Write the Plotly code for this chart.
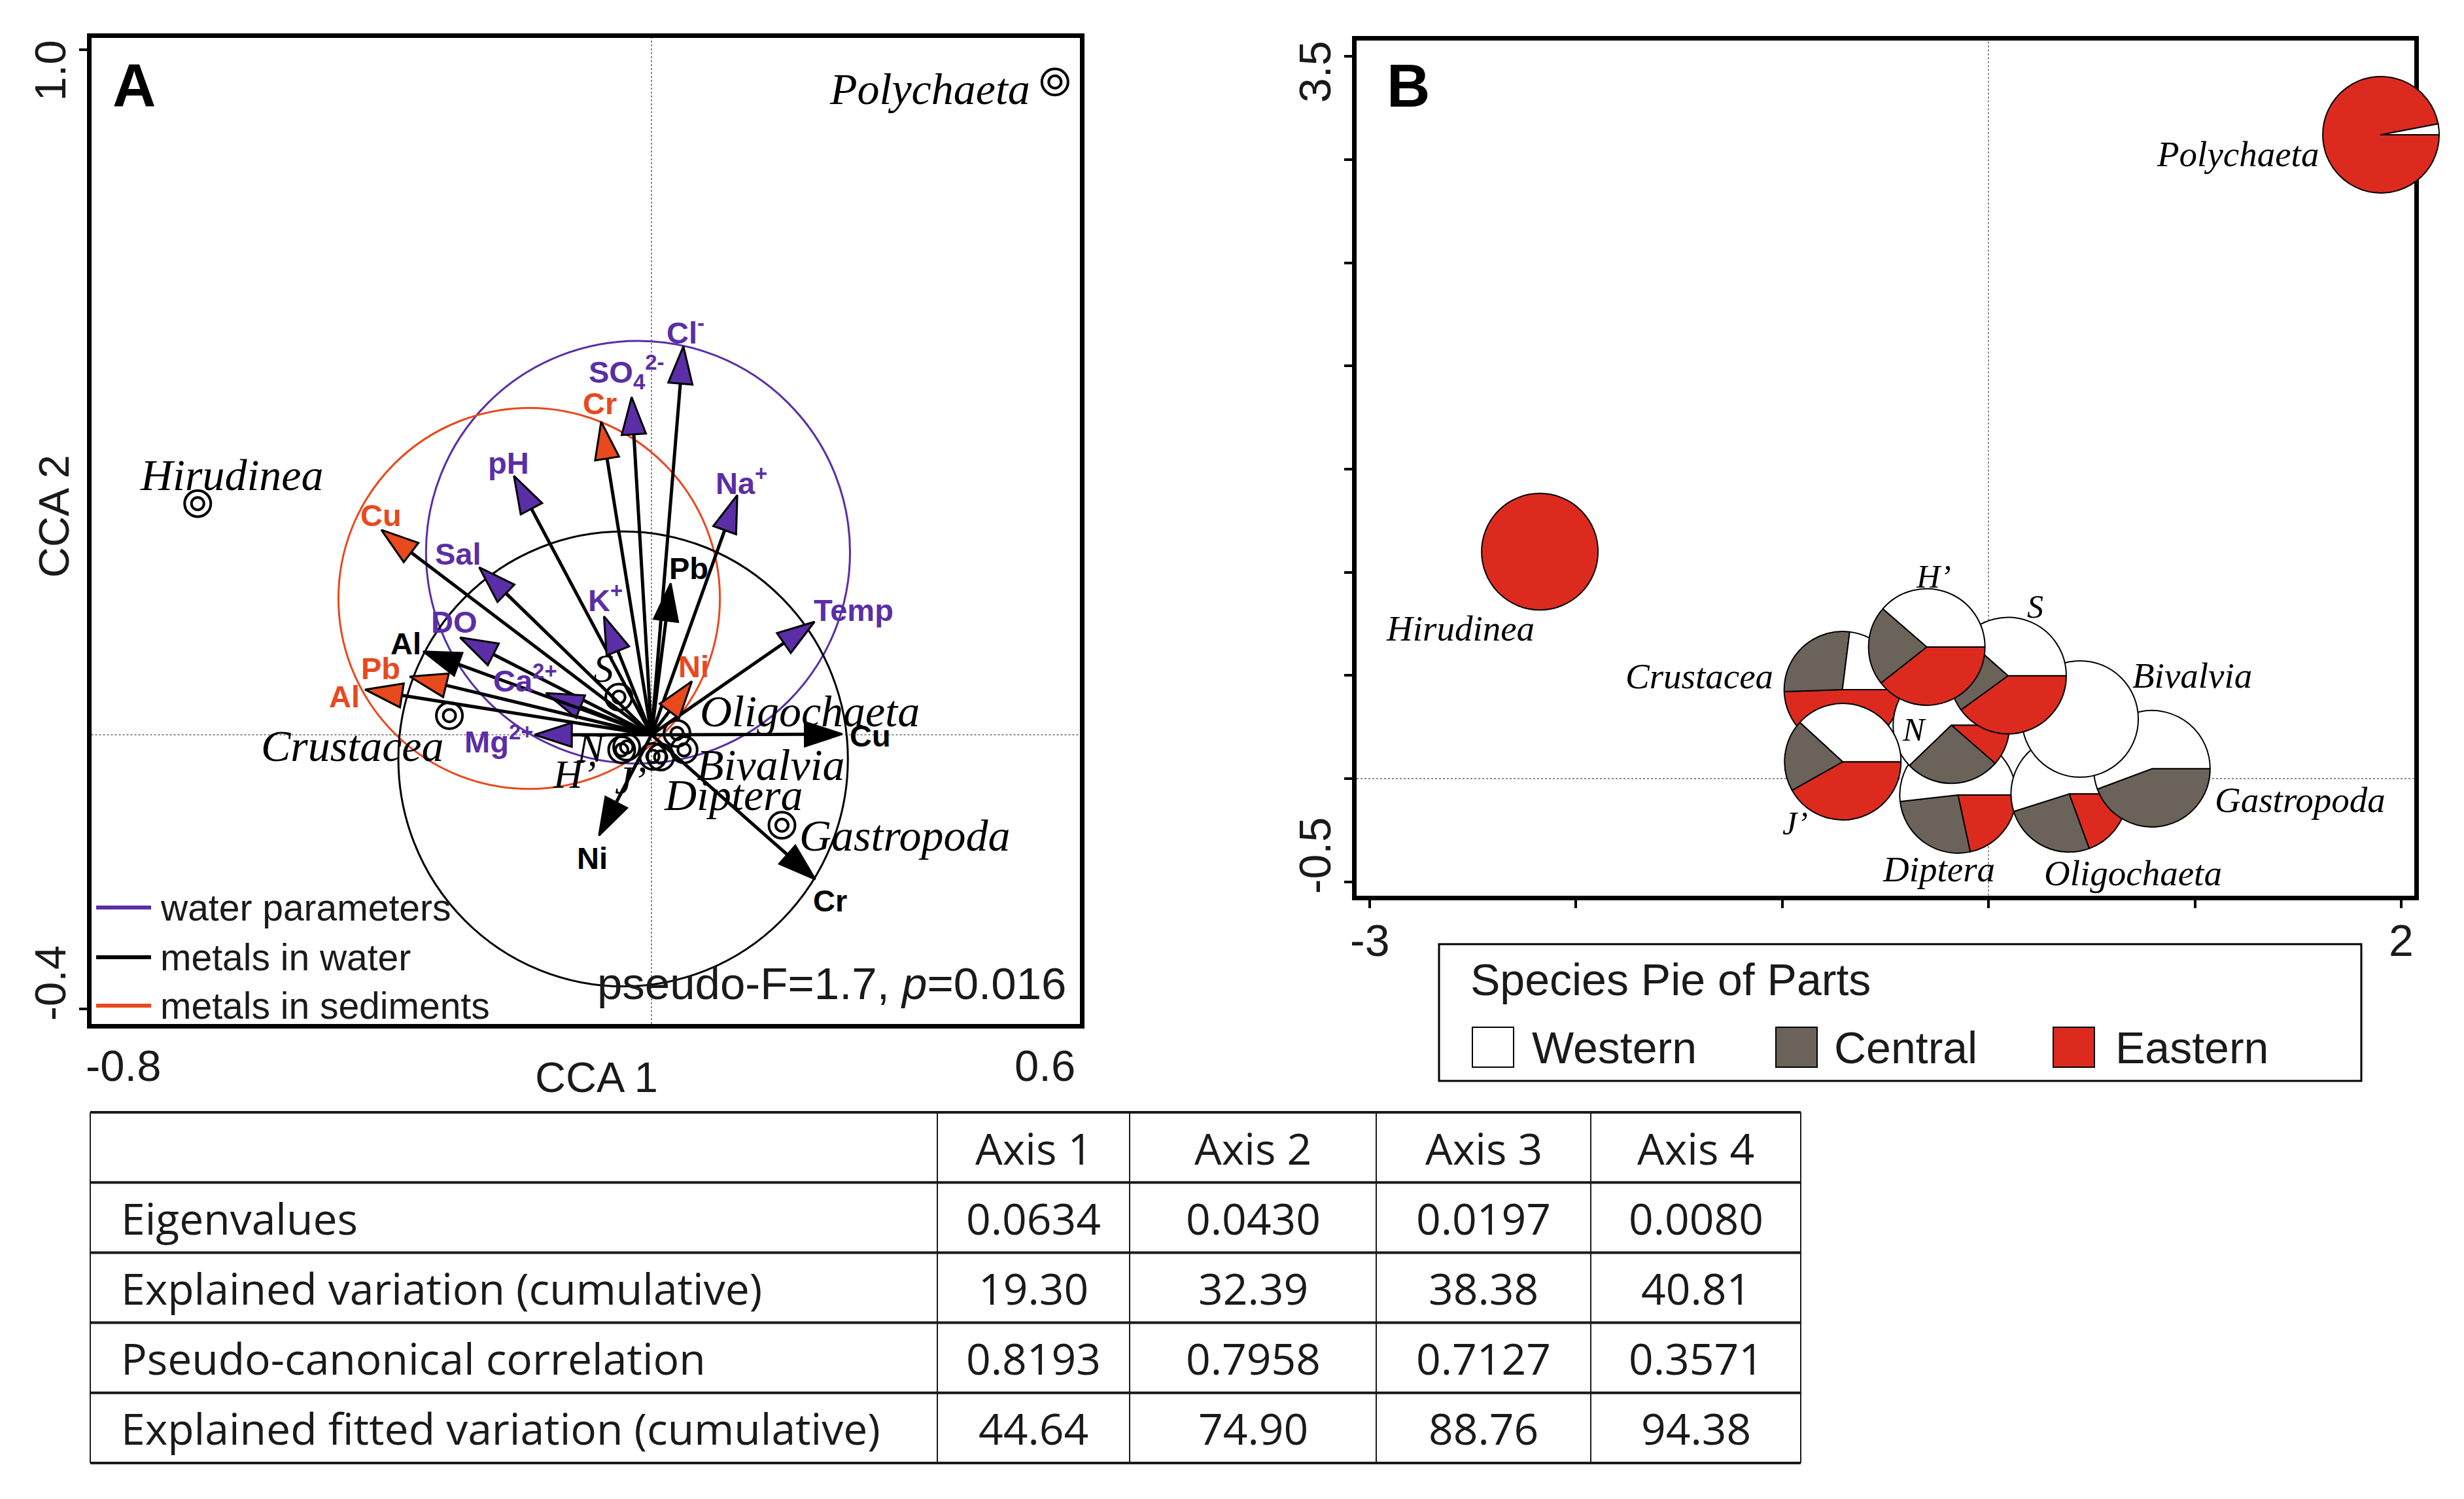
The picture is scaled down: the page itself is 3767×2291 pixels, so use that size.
import plotly.graph_objects as go

# ======================= DATA =======================
# ---- Panel A: CCA biplot (vector tips, CCA1 / CCA2) ----
water_names = ["Cl<sup>-</sup>", "SO<sub>4</sub><sup>2-</sup>", "pH", "Na<sup>+</sup>", "Sal",
               "K<sup>+</sup>", "DO", "Ca<sup>2+</sup>", "Mg<sup>2+</sup>", "Temp"]
water_x = [0.045, -0.028, -0.194, 0.121, -0.243, -0.067, -0.270, -0.149, -0.165, 0.230]
water_y = [0.567, 0.493, 0.378, 0.350, 0.2445, 0.173, 0.142, 0.061, 0.000, 0.165]

metal_w_names = ["Pb", "Al", "Cu", "Cr", "Ni"]
metal_w_x = [0.027, -0.322, 0.269, 0.231, -0.074]
metal_w_y = [0.221, 0.1216, 0.001, -0.211, -0.147]

metal_s_names = ["Cr", "Cu", "Pb", "Al", "Ni"]
metal_s_x = [-0.071, -0.381, -0.341, -0.404, 0.057]
metal_s_y = [0.457, 0.299, 0.085, 0.066, 0.078]

species_names = ["Polychaeta", "Hirudinea", "Crustacea", "Gastropoda", "Oligochaeta",
                 "Bivalvia", "Diptera", "S", "N", "H’", "J’"]
species_x = [0.569, -0.640, -0.285, 0.184, 0.036, 0.046, 0.013, -0.046, -0.042, -0.035, 0.002]
species_y = [0.953, 0.3375, 0.028, -0.132, 0.002, -0.022, -0.0325, 0.055, -0.022, -0.018, -0.0315]

# reference circles: water parameters, metals in sediments, metals in water
circle_cx = [-0.019, -0.1725, -0.040]
circle_cy = [0.2665, 0.199, -0.0353]
circle_rx = [0.299, 0.269, 0.317]
circle_ry = [0.3085, 0.278, 0.332]

legend_a_names = ["water parameters", "metals in water", "metals in sediments"]
stat_text = "pseudo-F=1.7, <i>p</i>=0.016"

A_xticks = [-0.8, 0.6]
A_xticklabels = ["-0.8", "0.6"]
A_yticks = [1.0, -0.4]
A_yticklabels = ["1.0", "-0.4"]

# ---- Panel B: species pie of parts ----
pie_names = ["Crustacea", "Diptera", "N", "Oligochaeta", "Gastropoda", "Bivalvia",
             "S", "J’", "H’", "Hirudinea", "Polychaeta"]
pie_x = [-0.708, -0.148, -0.180, 0.391, 0.792, 0.444, 0.095, -0.706, -0.299, -2.174, 1.902]
pie_y = [0.431, -0.079, 0.259, -0.074, 0.048, 0.289, 0.499, 0.082, 0.638, 1.100, 3.121]
western = [0.230, 0.518, 0.622, 0.549, 0.557, 1.000, 0.385, 0.382, 0.386, 0.000, 0.030]
central = [0.275, 0.266, 0.264, 0.257, 0.443, 0.000, 0.215, 0.200, 0.220, 0.000, 0.000]
eastern = [0.495, 0.216, 0.114, 0.194, 0.000, 0.000, 0.400, 0.418, 0.394, 1.000, 0.970]
region_names = ["Western", "Central", "Eastern"]
legend_b_title = "Species Pie of Parts"

B_xtickmarks = [-3, -2, -1, 0, 1, 2]
B_ytickmarks = [-0.5, 0.0, 0.5, 1.0, 1.5, 2.0, 2.5, 3.0, 3.5]
B_xticks = [-3, 2]
B_xticklabels = ["-3", "2"]
B_yticks = [3.5, -0.5]
B_yticklabels = ["3.5", "-0.5"]

# ---- Table ----
table_cols = ["Axis 1", "Axis 2", "Axis 3", "Axis 4"]
table_rows = ["Eigenvalues", "Explained variation (cumulative)",
              "Pseudo-canonical correlation", "Explained fitted variation (cumulative)"]
eigenvalues = [0.0634, 0.0430, 0.0197, 0.0080]
explained_var = [19.30, 32.39, 38.38, 40.81]
pseudo_corr = [0.8193, 0.7958, 0.7127, 0.3571]
fitted_var = [44.64, 74.90, 88.76, 94.38]

# ======================= STYLE / LAYOUT =======================
W, H = 3767, 2291
SANS = "Liberation Sans"
SERIF = "Liberation Serif"
TFONT = "Open Sans"
INK = "#1a1a1a"
PURPLE = "#5a2ea6"
ORANGE = "#e8491d"
BLACK = "#000000"
region_colors = ["#ffffff", "#6b635a", "#dd2a1f"]
LW = 7
PIE_R = 0.282
DA = -6  # vertical nudge for panel A furniture (pixels)

A = dict(x0=996, sx=1084, y0=1129 + DA, sy=1047, l=136, r=1654, t=60 + DA, b=1574.6 + DA)
B = dict(x0=3040, sx=315.5, y0=1190, sy=315.3, l=2070.5, r=3694, t=58, b=1372)


def pxx(v):
    return v / W


def pxy(v):
    return 1 - v / H


def axis_geom(P):
    l, r, t, b = P["l"] + LW / 2, P["r"] - LW / 2, P["t"] + LW / 2, P["b"] - LW / 2
    xdom = [l / W, r / W]
    ydom = [1 - b / H, 1 - t / H]
    xr = [(l - P["x0"]) / P["sx"], (r - P["x0"]) / P["sx"]]
    yr = [(P["y0"] - b) / P["sy"], (P["y0"] - t) / P["sy"]]
    return xdom, ydom, xr, yr


xdA, ydA, xrA, yrA = axis_geom(A)
xdB, ydB, xrB, yrB = axis_geom(B)

fig = go.Figure()
ann = []
shapes = []

# ---------------- zero lines ----------------
for xr_, yr_, xa, ya in [(xrA, yrA, "x", "y"), (xrB, yrB, "x2", "y2")]:
    shapes.append(dict(type="line", xref=xa, yref=ya, x0=0, x1=0, y0=yr_[0], y1=yr_[1],
                       line=dict(color="#8a8a8a", width=2, dash="dot"), layer="below"))
    shapes.append(dict(type="line", xref=xa, yref=ya, x0=xr_[0], x1=xr_[1], y0=0, y1=0,
                       line=dict(color="#8a8a8a", width=2, dash="dot"), layer="below"))

# ---------------- Panel A ----------------
circle_colors = [PURPLE, ORANGE, BLACK]
for cx, cy, rx, ry, col in zip(circle_cx, circle_cy, circle_rx, circle_ry, circle_colors):
    shapes.append(dict(type="circle", xref="x", yref="y", x0=cx - rx, x1=cx + rx,
                       y0=cy - ry, y1=cy + ry, line=dict(color=col, width=3), layer="below"))

water_off = [(3, -24), (-8, -38), (-8, -20), (6, -22), (-32, -21), (2, -28), (-9, -24),
             (-31, -22), (-55, 7), (60, -18)]
metal_w_off = [(28, -23), (-26, -12), (43, 3), (23, 33), (-10, 35)]
metal_s_off = [(-2, -28), (-1, -22), (-44, -13), (-32, 11), (3, -23)]

groups = [
    (water_names, water_x, water_y, PURPLE, PURPLE, water_off),
    (metal_w_names, metal_w_x, metal_w_y, BLACK, BLACK, metal_w_off),
    (metal_s_names, metal_s_x, metal_s_y, ORANGE, ORANGE, metal_s_off),
]
for names, xs, ys, fill, tcol, offs in groups:
    for nm, tx, ty, (dx, dy) in zip(names, xs, ys, offs):
        fig.add_trace(go.Scatter(
            x=[0, tx], y=[0, ty], mode="lines+markers", xaxis="x", yaxis="y",
            line=dict(color=BLACK, width=5),
            marker=dict(symbol="arrow", size=60, angleref="previous", color=fill,
                        line=dict(color=BLACK, width=3)),
            hoverinfo="skip", showlegend=False))
        ann.append(dict(x=tx, y=ty, xref="x", yref="y", text="<b>" + nm + "</b>",
                        showarrow=False, xanchor="center", yanchor="middle",
                        xshift=dx, yshift=-dy,
                        font=dict(family=SANS, size=47, color=tcol)))

# species markers (double circles)
for sz in (40, 19):
    fig.add_trace(go.Scatter(x=species_x, y=species_y, mode="markers", xaxis="x", yaxis="y",
                             marker=dict(symbol="circle-open", size=sz, color=BLACK,
                                         line=dict(width=4)),
                             hoverinfo="skip", showlegend=False))

species_lab = [("right", -36, 11), ("center", 52, -44), ("right", -6, 46), ("left", 25, 16),
               ("left", 33, -34), ("left", 17, 23), ("left", 3, 58), ("center", -24, -44),
               ("center", -46, -3), ("center", -80, 41), ("center", -34, 36)]
for nm, sx_, sy_, (xa, dx, dy) in zip(species_names, species_x, species_y, species_lab):
    ann.append(dict(x=sx_, y=sy_, xref="x", yref="y", text="<i>" + nm + "</i>",
                    showarrow=False, xanchor=xa, yanchor="middle", xshift=dx, yshift=-dy,
                    font=dict(family=SERIF, size=68 if len(nm) > 2 else 62, color=BLACK)))

# legend A
leg_y = [1393 + DA, 1469 + DA, 1543 + DA]
for nm, yy, col in zip(legend_a_names, leg_y, [PURPLE, BLACK, ORANGE]):
    shapes.append(dict(type="line", xref="paper", yref="paper", x0=pxx(147), x1=pxx(231),
                       y0=pxy(yy), y1=pxy(yy), line=dict(color=col, width=6)))
    ann.append(dict(x=pxx(243), y=pxy(yy), xref="paper", yref="paper", text=nm,
                    showarrow=False, xanchor="left", yanchor="middle",
                    font=dict(family=SANS, size=57, color=INK)))

ann.append(dict(x=pxx(1632), y=pxy(1509 + DA), xref="paper", yref="paper", text=stat_text,
                showarrow=False, xanchor="right", yanchor="middle",
                font=dict(family=SANS, size=69, color=INK)))

# panel letters
ann.append(dict(x=pxx(170), y=pxy(136 + DA), xref="paper", yref="paper", text="<b>A</b>",
                showarrow=False, xanchor="left", yanchor="middle",
                font=dict(family=SANS, size=92, color=BLACK)))
ann.append(dict(x=pxx(2118), y=pxy(131), xref="paper", yref="paper", text="<b>B</b>",
                showarrow=False, xanchor="left", yanchor="middle",
                font=dict(family=SANS, size=92, color=BLACK)))

# axis titles & tick labels (A)
ann.append(dict(x=pxx(912), y=pxy(1652 + DA), xref="paper", yref="paper", text="CCA 1",
                showarrow=False, xanchor="center", yanchor="middle",
                font=dict(family=SANS, size=65, color=INK)))
ann.append(dict(x=pxx(82), y=pxy(795 + DA), xref="paper", yref="paper", text="CCA 2",
                showarrow=False, xanchor="center", yanchor="middle", textangle=-90,
                font=dict(family=SANS, size=65, color=INK)))
for v, t, xa in zip(A_xticks, A_xticklabels, ["left", "right"]):
    ann.append(dict(x=pxx(A["x0"] + v * A["sx"]), y=pxy(1634 + DA), xref="paper",
                    yref="paper", text=t, showarrow=False, xanchor=xa, yanchor="middle",
                    font=dict(family=SANS, size=67, color=INK)))
for v, t, ya, sh in zip(A_yticks, A_yticklabels, ["top", "bottom"], [16, -21]):
    ann.append(dict(x=pxx(76), y=v, xref="paper", yref="y", text=t, showarrow=False,
                    xanchor="center", yanchor=ya, yshift=sh, textangle=-90,
                    font=dict(family=SANS, size=67, color=INK)))

# ---------------- Panel B ----------------
pie_lab = {"Crustacea": ("right", -104, -21), "Diptera": ("center", -29, 114),
           "N": ("center", -57, 7), "Oligochaeta": ("center", 98, 121),
           "Gastropoda": ("left", 94, 48), "Bivalvia": ("left", 78, -66),
           "S": ("center", 42, -106), "J’": ("center", -73, 94), "H’": ("center", 10, -108),
           "Hirudinea": ("center", -122, 117), "Polychaeta": ("right", -93, 30)}
r_px = PIE_R * B["sx"]
# slices listed Eastern, Central, Western and laid clockwise from 3 o'clock,
# so Western runs counter-clockwise from 3 o'clock as in the original
for i, nm in enumerate(pie_names):
    cxp = B["x0"] + pie_x[i] * B["sx"]
    cyp = B["y0"] - pie_y[i] * B["sy"]
    vals = [eastern[i], central[i], western[i]]
    labs = region_names[::-1]
    cols = region_colors[::-1]
    keep = [k for k, v in enumerate(vals) if v > 0]
    fig.add_trace(go.Pie(
        values=[vals[k] for k in keep], labels=[labs[k] for k in keep],
        marker=dict(colors=[cols[k] for k in keep], line=dict(color=BLACK, width=2)),
        domain=dict(x=[(cxp - r_px) / W, (cxp + r_px) / W],
                    y=[1 - (cyp + r_px) / H, 1 - (cyp - r_px) / H]),
        sort=False, direction="clockwise", rotation=90, textinfo="none",
        hoverinfo="skip", showlegend=False))
    xa, dx, dy = pie_lab[nm]
    ann.append(dict(x=pie_x[i], y=pie_y[i], xref="x2", yref="y2", text="<i>" + nm + "</i>",
                    showarrow=False, xanchor=xa, yanchor="middle", xshift=dx, yshift=-dy,
                    font=dict(family=SERIF, size=55 if len(nm) > 2 else 50, color=BLACK)))

for v, t in zip(B_xticks, B_xticklabels):
    ann.append(dict(x=v, y=pxy(1437), xref="x2", yref="paper", text=t, showarrow=False,
                    xanchor="center", yanchor="middle", font=dict(family=SANS, size=68, color=INK)))
for v, t, ya, sh in zip(B_yticks, B_yticklabels, ["top", "bottom"], [26, -21]):
    ann.append(dict(x=pxx(2010), y=v, xref="paper", yref="y2", text=t, showarrow=False,
                    xanchor="center", yanchor=ya, yshift=sh, textangle=-90,
                    font=dict(family=SANS, size=68, color=INK)))

# legend B
shapes.append(dict(type="rect", xref="paper", yref="paper", x0=pxx(2200), x1=pxx(3610),
                   y0=pxy(1652), y1=pxy(1443), line=dict(color=BLACK, width=3),
                   fillcolor="white"))
ann.append(dict(x=pxx(2246), y=pxy(1497), xref="paper", yref="paper", text=legend_b_title,
                showarrow=False, xanchor="left", yanchor="middle",
                font=dict(family=SANS, size=68, color=INK)))
sw_x = [2251, 2715, 3139]
tx_x = [2340, 2802, 3232]
for nm, col, sx0, tx0 in zip(region_names, region_colors, sw_x, tx_x):
    shapes.append(dict(type="rect", xref="paper", yref="paper", x0=pxx(sx0), x1=pxx(sx0 + 63),
                       y0=pxy(1631), y1=pxy(1570), line=dict(color=BLACK, width=2),
                       fillcolor=col))
    ann.append(dict(x=pxx(tx0), y=pxy(1601), xref="paper", yref="paper", text=nm,
                    showarrow=False, xanchor="left", yanchor="middle",
                    font=dict(family=SANS, size=68, color=INK)))

# ---------------- Table ----------------
col_edges = [138, 1433, 1727, 2104, 2432, 2753]
T_top, T_row = 1700, 107.2
n_rows = len(table_rows) + 1
for r in range(n_rows + 1):
    shapes.append(dict(type="line", xref="x3", yref="y3", x0=col_edges[0], x1=col_edges[-1],
                       y0=r, y1=r, line=dict(color=INK, width=4)))
for e in col_edges:
    shapes.append(dict(type="line", xref="x3", yref="y3", x0=e, x1=e, y0=0, y1=n_rows,
                       line=dict(color=INK, width=2)))
col_centers = [(col_edges[i] + col_edges[i + 1]) / 2 for i in range(1, len(col_edges) - 1)]
for c, h in zip(col_centers, table_cols):
    ann.append(dict(x=c, y=0.5, xref="x3", yref="y3", text=h, showarrow=False,
                    xanchor="center", yanchor="middle", font=dict(family=TFONT, size=66, color=INK)))
row_values = [[f"{v:.4f}" for v in eigenvalues], [f"{v:.2f}" for v in explained_var],
              [f"{v:.4f}" for v in pseudo_corr], [f"{v:.2f}" for v in fitted_var]]
for ri, (lab, vals) in enumerate(zip(table_rows, row_values)):
    yy = ri + 1.5
    ann.append(dict(x=183, y=yy, xref="x3", yref="y3", text=lab, showarrow=False,
                    xanchor="left", yanchor="middle", font=dict(family=TFONT, size=66, color=INK)))
    for c, v in zip(col_centers, vals):
        ann.append(dict(x=c, y=yy, xref="x3", yref="y3", text=v, showarrow=False,
                        xanchor="center", yanchor="middle",
                        font=dict(family=TFONT, size=66, color=INK)))

tx_l, tx_r = 100, 2790
ty_pad = 0.1
T_bot = T_top + n_rows * T_row

common = dict(showgrid=False, zeroline=False, fixedrange=True)
fig.update_layout(
    width=W, height=H, margin=dict(l=0, r=0, t=0, b=0),
    paper_bgcolor="white", plot_bgcolor="white", showlegend=False,
    xaxis=dict(domain=xdA, range=xrA, anchor="y", showline=True, mirror=True,
               linecolor=BLACK, linewidth=LW, ticks="", showticklabels=False, **common),
    yaxis=dict(domain=ydA, range=yrA, anchor="x", showline=True, mirror=True,
               linecolor=BLACK, linewidth=LW, ticks="outside", tickvals=A_yticks,
               ticklen=12, tickwidth=4, tickcolor=BLACK, showticklabels=False, **common),
    xaxis2=dict(domain=xdB, range=xrB, anchor="y2", showline=True, mirror=True,
                linecolor=BLACK, linewidth=LW, ticks="outside", tickvals=B_xtickmarks,
                ticklen=12, tickwidth=4, tickcolor=BLACK, showticklabels=False, **common),
    yaxis2=dict(domain=ydB, range=yrB, anchor="x2", showline=True, mirror=True,
                linecolor=BLACK, linewidth=LW, ticks="outside", tickvals=B_ytickmarks,
                ticklen=12, tickwidth=4, tickcolor=BLACK, showticklabels=False, **common),
    xaxis3=dict(domain=[tx_l / W, tx_r / W], range=[tx_l, tx_r], anchor="y3",
                visible=False, **common),
    yaxis3=dict(domain=[1 - (T_bot + ty_pad * T_row) / H, 1 - (T_top - ty_pad * T_row) / H],
                range=[n_rows + ty_pad, -ty_pad], anchor="x3", visible=False, **common),
    shapes=shapes, annotations=ann,
)

fig.write_html("out.html", config={"displayModeBar": False},
               post_script="document.body.style.margin='0px';")
